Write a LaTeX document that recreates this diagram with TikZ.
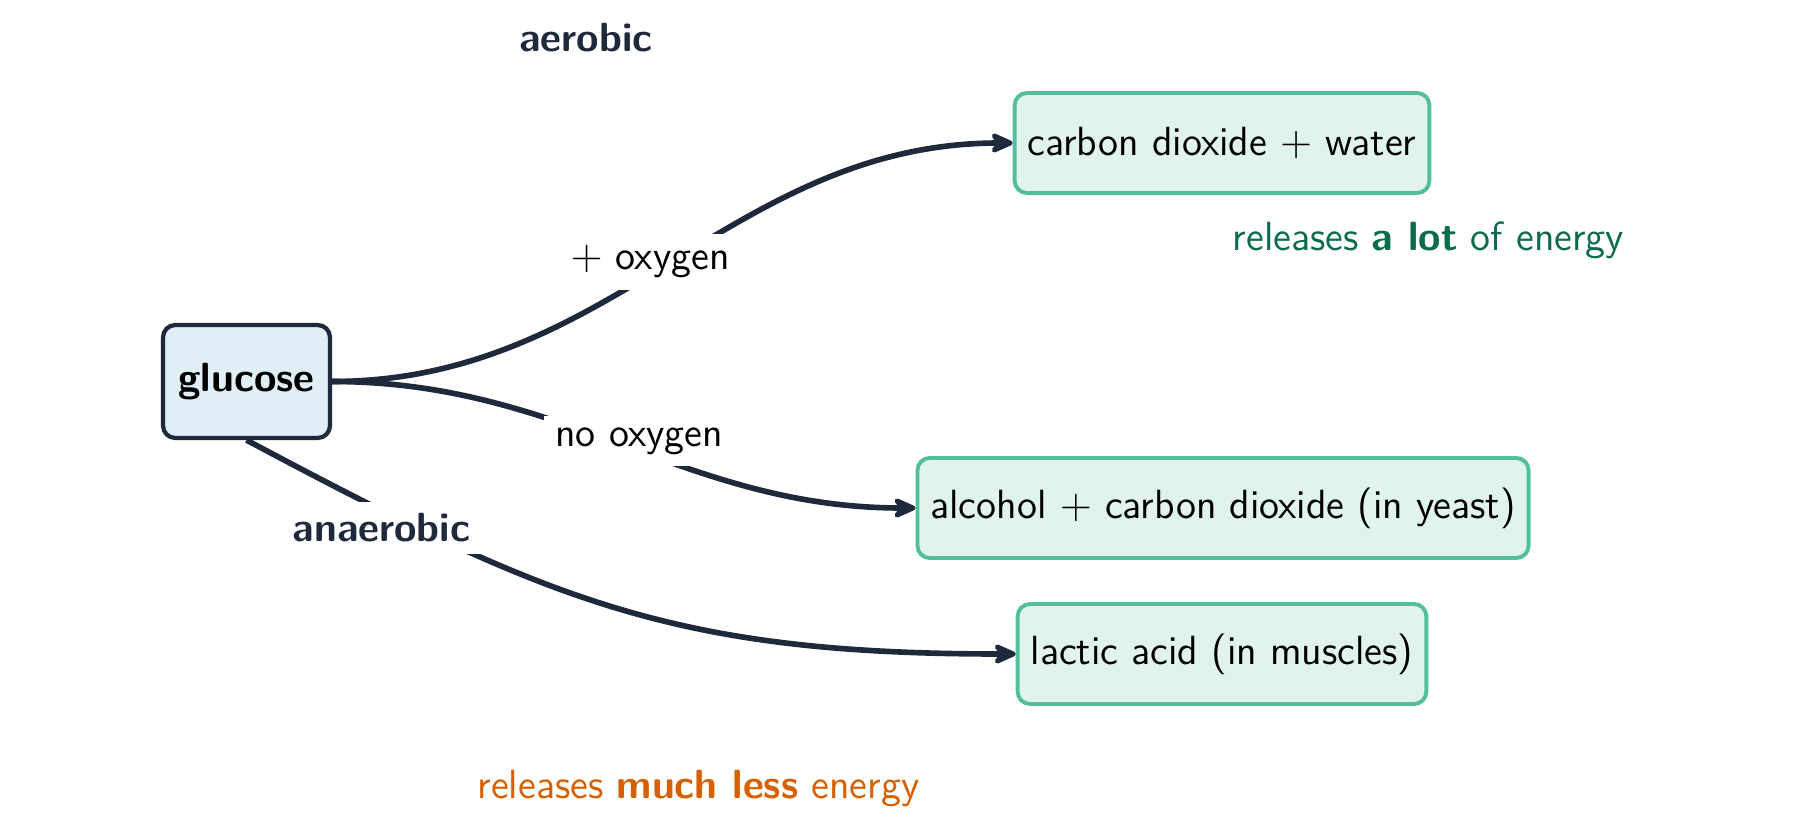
\documentclass[tikz,border=0pt]{standalone}
\usepackage{xcolor}
\usepackage{tikz}
\usetikzlibrary{arrows.meta,positioning,shapes,calc}
\definecolor{slate}{HTML}{1E293B}
\definecolor{glucfill}{HTML}{E0EFF6}
\definecolor{prodline}{HTML}{52BE9A}
\definecolor{prodfill}{HTML}{E0F3EE}
\definecolor{lotgreen}{HTML}{0B6B4C}
\definecolor{lessorange}{HTML}{D66000}

\begin{document}
\begin{tikzpicture}[x = .1mm, y = -.1mm,
  font = \sffamily\fontsize{11.6}{14}\selectfont,
  srcbox/.style = {draw = slate, line width = 1.2pt, fill = glucfill, rounded corners = 3.5pt,
    minimum width = 1.67cm, minimum height = 1.13cm, font = \sffamily\bfseries\fontsize{11.6}{14}\selectfont},
  prodbox/.style = {draw = prodline, line width = 1.1pt, fill = prodfill, rounded corners = 3.5pt,
    minimum height = 1cm, inner xsep = .13cm},
  flow/.style = {draw = slate, line width = 1.6pt, -{Stealth[length = 8.5pt, width = 7.5pt, inset = 3pt, round]}},
  cond/.style = {fill = white},
  kind/.style = {fill = white, text = slate, font = \sffamily\bfseries\fontsize{11.6}{14}\selectfont}]
\useasboundingbox (0, 0) rectangle (1800, 828);

\node[srcbox] (glc) at (246.5, 381.5) {glucose};
\node[prodbox] (cdw) at (1222, 143) {carbon dioxide $+$ water};
\node[prodbox] (alc) at (1223, 508) {alcohol $+$ carbon dioxide (in yeast)};
\node[prodbox] (lac) at (1222, 654) {lactic acid (in muscles)};

\draw[flow] (glc.east) to[out = 0, in = 180] (cdw.west);
\draw[flow] (glc.east) to[out = 0, in = 180] (alc.west);
\draw[flow] (glc.south) to[out = -28, in = 180, looseness = 1.1] (lac.west);

\node[cond] (oxy) at (650, 262) {$+$ oxygen};
\node[cond] (nooxy) at (639, 441) {no oxygen};
\node[kind] (anaer) at (381.5, 528) {anaerobic};
\node[kind, fill = none] (aer) at (586, 37.5) {aerobic};

\node[text = lotgreen] (lot) at (1428.5, 240) {releases \textbf{a lot} of energy};
\node[text = lessorange] (less) at (698.5, 789) {releases \textbf{much less} energy};

\end{tikzpicture}
\end{document}
